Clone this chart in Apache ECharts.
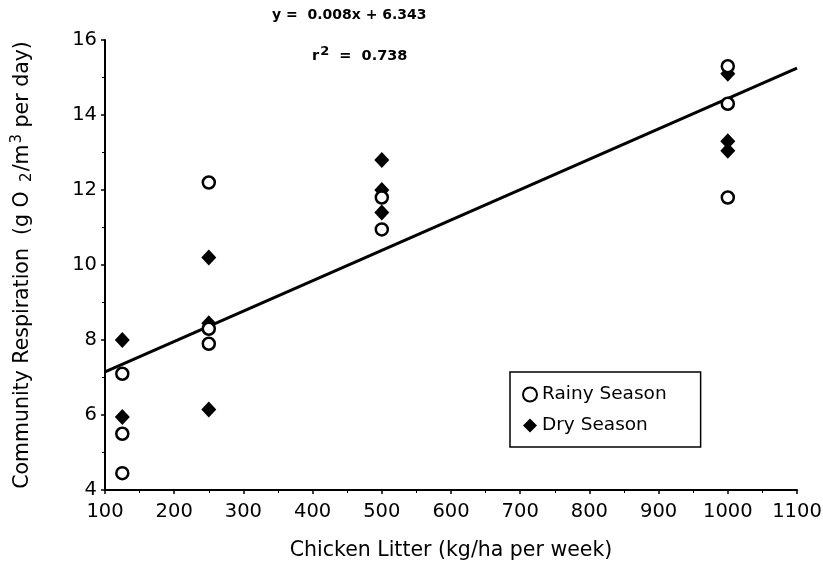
<!DOCTYPE html>
<html>
<head>
<meta charset="utf-8">
<script src="https://cdn.jsdelivr.net/npm/echarts@6/dist/echarts.min.js"></script>
<style>html,body{margin:0;padding:0;background:#fff;}#c{width:823px;height:565px;}</style>
</head>
<body>
<div id="c"></div>
<script>
// Data
const rainyX = [125, 125, 125, 250, 250, 250, 500, 500, 1000, 1000, 1000];
const rainyY = [7.1, 5.5, 4.45, 12.2, 8.3, 7.9, 11.8, 10.95, 15.3, 14.3, 11.8];
const dryX = [125, 125, 250, 250, 250, 500, 500, 500, 1000, 1000, 1000];
const dryY = [8.0, 5.95, 10.2, 8.45, 6.15, 12.8, 12.0, 11.4, 15.1, 13.3, 13.05];
const fitX = [100, 1100];
const fitY = [7.15, 15.25];
const xTicks = { min: 100, max: 1100, step: 100 };
const yTicks = { min: 4, max: 16, step: 2 };
const equationText = 'y =  0.008x + 6.343';
const r2Text = '0.738';

const zip = (xs, ys) => xs.map((x, i) => [x, ys[i]]);
const FONT = '"DejaVu Sans", Arial, sans-serif';

const chart = echarts.init(document.getElementById('c'), null, { renderer: 'canvas' });
chart.setOption({
  animation: false,
  backgroundColor: '#fff',
  grid: { left: 105, right: 26, top: 40, bottom: 75, containLabel: false, outerBoundsMode: 'none' },
  xAxis: {
    type: 'value', min: xTicks.min, max: xTicks.max, interval: xTicks.step,
    name: 'Chicken Litter (kg/ha per week)', nameLocation: 'middle', nameGap: 50,
    nameTextStyle: { color: '#000', fontSize: 20.5, fontFamily: FONT },
    axisLine: { lineStyle: { color: '#000', width: 2 } },
    axisTick: { show: true, length: 4, lineStyle: { color: '#000', width: 1.5 } },
    minorTick: { show: true, splitNumber: 2, length: 3, lineStyle: { color: '#000' } },
    axisLabel: { color: '#000', fontSize: 19.5, fontFamily: FONT, margin: 12, formatter: v => String(v) },
    splitLine: { show: false }
  },
  yAxis: {
    type: 'value', min: yTicks.min, max: yTicks.max, interval: yTicks.step,
    name: '{n|Community Respiration  (g O }{sub|2}{n|/m}{sup|3}{n| per day)}',
    nameLocation: 'middle', nameGap: 70, nameRotate: 90,
    nameTextStyle: {
      color: '#000', fontSize: 20.5, fontFamily: FONT,
      rich: {
        n: { fontSize: 20.5, fontFamily: FONT, color: '#000' },
        sub: { fontSize: 15, fontFamily: FONT, color: '#000', padding: [9, 1, 0, 3] },
        sup: { fontSize: 15, fontFamily: FONT, color: '#000', padding: [0, 0, 10, 1] }
      }
    },
    axisLine: { show: true, lineStyle: { color: '#000', width: 2 } },
    axisTick: { show: true, length: 4, lineStyle: { color: '#000', width: 1.5 } },
    minorTick: { show: true, splitNumber: 2, length: 3, lineStyle: { color: '#000' } },
    axisLabel: { color: '#000', fontSize: 19.5, fontFamily: FONT, margin: 8 },
    splitLine: { show: false }
  },
  legend: {
    orient: 'vertical', left: 510, top: 372,
    data: ['Rainy Season', 'Dry Season'],
    borderColor: '#000', borderWidth: 1.5, borderRadius: 0,
    padding: [13, 34, 12, 12], itemGap: 12, itemWidth: 14, itemHeight: 14,
    textStyle: { color: '#000', fontSize: 18.5, fontFamily: FONT }
  },
  graphic: [
    { type: 'text', left: 272, top: 8, style: { text: equationText, fill: '#000', font: 'bold 14px ' + FONT } },
    { type: 'text', left: 312, top: 45, style: { text: '{r|r}{s|2}{r|  =  ' + r2Text + '}', fill: '#000', font: 'bold 14px ' + FONT,
      rich: { r: { font: 'bold 14.5px ' + FONT, fill: '#000' }, s: { font: 'bold 13px ' + FONT, fill: '#000', padding: [0, 0, 9, 1] } } } }
  ],
  series: [
    {
      name: 'Fit', type: 'line', data: zip(fitX, fitY), showSymbol: false, symbol: 'none',
      lineStyle: { color: '#000', width: 3 }, silent: true, z: 1
    },
    {
      name: 'Rainy Season', type: 'scatter', data: zip(rainyX, rainyY), symbol: 'circle', symbolSize: 12,
      itemStyle: { color: '#fff', borderColor: '#000', borderWidth: 2.5, opacity: 1 }, z: 3
    },
    {
      name: 'Dry Season', type: 'scatter', data: zip(dryX, dryY), symbol: 'diamond', symbolSize: [15, 16],
      itemStyle: { color: '#000', opacity: 1 }, z: 2
    }
  ]
});
</script>
</body>
</html>
